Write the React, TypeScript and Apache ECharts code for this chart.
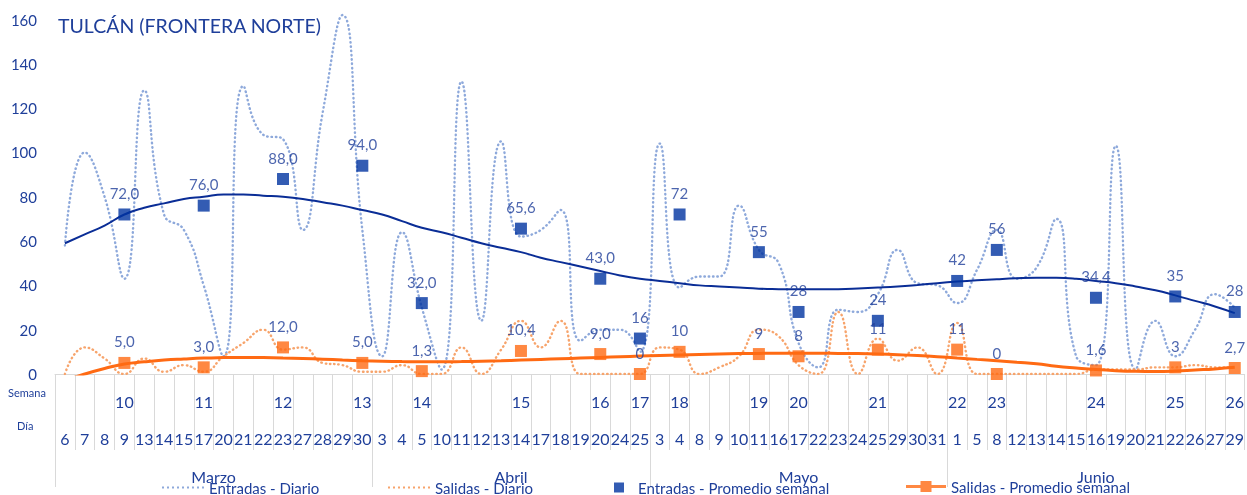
import React, { useEffect, useRef } from "react";
import * as echarts from "echarts";

// ---------- data ----------
const marzoDays = [6, 7, 8, 9, 13, 14, 15, 17, 20, 21, 22, 23, 27, 28, 29, 30];
const abrilDays = [3, 4, 5, 10, 11, 12, 13, 14, 17, 18, 19, 20, 24, 25];
const mayoDays = [3, 4, 8, 9, 10, 11, 16, 17, 22, 23, 24, 25, 29, 30, 31];
const junioDays = [1, 5, 8, 12, 13, 14, 15, 16, 19, 20, 21, 22, 26, 27, 29];
const monthNames = ["Marzo", "Abril", "Mayo", "Junio"];
const monthDays = [marzoDays, abrilDays, mayoDays, junioDays];

// week number shown under the day that carries the weekly average
const weekRow = [
  "", "", "", "10", "", "", "", "11", "", "", "", "12", "", "", "", "13",
  "", "", "14", "", "", "", "", "15", "", "", "", "16", "", "17",
  "", "18", "", "", "", "19", "", "20", "", "", "", "21", "", "", "",
  "22", "", "23", "", "", "", "", "24", "", "", "", "25", "", "", "26",
];

const entradasDiario = [
  58, 100, 80, 43, 128, 72, 65, 40, 8, 130, 108, 106, 65, 118, 162, 65,
  8, 64, 30, 2, 132, 24, 105, 62, 65, 74, 15, 20, 20, 10,
  104, 39, 44, 44, 76, 56, 50, 14, 3, 29, 28, 36, 56, 41, 40,
  32, 47, 65, 43, 48, 70, 8, 4, 103, 2, 24, 8, 20, 36, 30,
];
const salidasDiario = [
  0, 12, 7, 0, 7, 1, 4, 1, 8, 14, 20, 11, 12, 5, 4, 1,
  1, 4, 0, 0, 12, 0, 11, 24, 12, 24, 0, 0, 0, 0,
  12, 11, 0, 3, 8, 20, 17, 4, 0, 28, 0, 16, 6, 12, 0,
  23, 0, 0, 0, 0, 0, 0, 2, 2, 2, 3, 3, 4, 3, 3,
];
const entradasTendencia = [
  59, 63, 67, 72, 75, 77, 79, 80, 81, 81, 80.5, 80, 79, 77.5, 76, 74,
  72, 69, 66, 64, 61.5, 59, 57, 55, 52.5, 50.5, 48.5, 46.5, 44.5, 43,
  42, 41, 40, 39.5, 39, 38.5, 38.3, 38.2, 38.2, 38.3, 38.6, 39, 39.5, 40.2, 41,
  41.7, 42.3, 42.8, 43.2, 43.4, 43.4, 43, 42, 41, 39.5, 37.8, 35.5, 33, 30.5, 27.5,
];
const salidasTendencia = [
  -3, 0, 2.5, 4.5, 5.5, 6.3, 6.8, 7.2, 7.4, 7.5, 7.4, 7.2, 7, 6.7, 6.3, 6,
  5.8, 5.6, 5.5, 5.5, 5.6, 5.8, 6, 6.3, 6.6, 6.9, 7.2, 7.5, 7.8, 8.1,
  8.4, 8.6, 8.8, 9, 9.2, 9.3, 9.4, 9.4, 9.4, 9.3, 9.2, 9, 8.7, 8.3, 7.8,
  7.2, 6.6, 6, 5.3, 4.6, 3.5, 2.7, 2, 1.5, 1.2, 1.1, 1.3, 1.8, 2.3, 3,
];
const entradasSemanal = [72, 76, 88, 94, 32, 65.6, 43, 16, 72, 55, 28, 24, 42, 56, 34.4, 35, 28];
const entradasSemanalLabels = ["72,0", "76,0", "88,0", "94,0", "32,0", "65,6", "43,0", "16", "72", "55", "28", "24", "42", "56", "34,4", "35", "28"];
const salidasSemanal = [5, 3, 12, 5, 1.3, 10.4, 9, 0, 10, 9, 8, 11, 11, 0, 1.6, 3, 2.7];
const salidasSemanalLabels = ["5,0", "3,0", "12,0", "5,0", "1,3", "10,4", "9,0", "0", "10", "9", "8", "11", "11", "0", "1,6", "3", "2,7"];

// ---------- derived ----------
const dayLabels = monthDays.flat().map(String);
const weekIdx = weekRow.map((w, i) => (w ? i : -1)).filter((i) => i >= 0);
const monthBounds: number[] = [];
const monthMids: number[] = [];
{
  let acc = 0;
  monthDays.forEach((m) => {
    monthBounds.push(acc);
    monthMids.push(acc + m.length / 2);
    acc += m.length;
  });
}

// dotted legend icon (9 small dots)
const dottedIcon =
  "path://" +
  Array.from({ length: 9 })
    .map((_, k) => `M${k * 5},0h2v2h-2z`)
    .join(" ");

const TXT = "#1F3F9A";
const FONT = "Lato";
const BLUE = "#0033A0";
const ORANGE = "#FF6A13";
const GRID = "#D9D9D9";
const LEG_TOP = 475;

export default function App() {
  const ref = useRef<HTMLDivElement>(null);
  useEffect(() => {
    const chart = echarts.init(ref.current as HTMLDivElement, null, { renderer: "svg" });
    const legendText = { color: TXT, fontSize: 15, fontFamily: FONT };
    const option: any = {
      animation: false,
      textStyle: { fontFamily: FONT },
      title: {
        text: "TULCÁN (FRONTERA NORTE)",
        left: 53,
        top: 10,
        textStyle: { color: TXT, fontSize: 19.5, fontWeight: "normal", fontFamily: FONT },
      },
      grid: { left: 55, top: 19.5, width: 1194, height: 354.5 },
      xAxis: [
        {
          type: "category",
          data: dayLabels,
          boundaryGap: true,
          axisLine: { show: true, lineStyle: { color: GRID } },
          axisTick: { show: true, interval: 0, length: 76, lineStyle: { color: GRID } },
          axisLabel: { interval: 0, margin: 56, color: TXT, fontSize: 16, fontFamily: FONT },
        },
        {
          type: "category",
          data: dayLabels,
          position: "bottom",
          axisLine: { show: false },
          axisTick: { show: false },
          axisLabel: {
            interval: 0,
            margin: 19,
            color: TXT,
            fontSize: 16,
            fontFamily: FONT,
            formatter: (_v: string, i: number) => weekRow[i],
          },
        },
        {
          type: "value",
          min: 0,
          max: dayLabels.length,
          position: "bottom",
          axisLine: { show: false },
          splitLine: { show: false },
          axisTick: { show: true, customValues: monthBounds, length: 113, lineStyle: { color: GRID } },
          axisLabel: {
            customValues: monthMids,
            margin: 94,
            color: TXT,
            fontSize: 16,
            fontFamily: FONT,
            formatter: (v: number) => {
              const k = monthMids.findIndex((m) => Math.abs(m - v) < 0.01);
              return k >= 0 ? monthNames[k] : "";
            },
          },
        },
      ],
      yAxis: {
        type: "value",
        min: 0,
        max: 160,
        interval: 20,
        axisLine: { show: false },
        axisTick: { show: false },
        splitLine: { show: false },
        axisLabel: { color: TXT, fontSize: 15, margin: 18, fontFamily: FONT },
      },
      legend: [
        {
          data: [{ name: "Entradas - Diario", icon: dottedIcon }],
          left: 157,
          top: LEG_TOP,
          itemWidth: 42,
          itemHeight: 2,
          textStyle: legendText,
        },
        {
          data: [{ name: "Salidas - Diario", icon: dottedIcon }],
          left: 383,
          top: LEG_TOP,
          itemWidth: 42,
          itemHeight: 2,
          textStyle: legendText,
        },
        {
          data: [{ name: "Entradas - Promedio semanal", icon: "rect" }],
          left: 609,
          top: LEG_TOP,
          itemWidth: 10,
          itemHeight: 10,
          textStyle: { ...legendText, padding: [0, 0, 0, 9] },
        },
        {
          data: [{ name: "Salidas - Promedio semanal", icon: "path://M0,4.5h40v3h-40z M14.5,0.5h11v11h-11z" }],
          left: 901,
          top: LEG_TOP - 1,
          itemWidth: 40,
          itemHeight: 12,
          textStyle: legendText,
        },
      ],
      graphic: [
        { type: "text", left: 8, top: 387, style: { text: "Semana", fill: TXT, fontSize: 11, fontFamily: FONT } },
        { type: "text", left: 17, top: 420, style: { text: "Día", fill: TXT, fontSize: 11, fontFamily: FONT } },
      ],
      series: [
        {
          name: "Entradas - Diario",
          type: "line",
          data: entradasDiario,
          smooth: 0.5,
          symbol: "none",
          clip: false,
          z: 1,
          lineStyle: { color: "#8EA9DB", width: 2.4, type: [0.5, 3.8], cap: "round" },
          itemStyle: { color: "#8EA9DB" },
        },
        {
          name: "Salidas - Diario",
          type: "line",
          data: salidasDiario,
          smooth: 0.5,
          symbol: "none",
          z: 1,
          lineStyle: { color: "#F7A46C", width: 2.4, type: [0.5, 3.8], cap: "round" },
          itemStyle: { color: "#F7A46C" },
        },
        {
          name: "Tendencia Entradas",
          type: "line",
          data: entradasTendencia,
          smooth: true,
          symbol: "none",
          z: 3,
          lineStyle: { color: "#0A2D96", width: 2 },
        },
        {
          name: "Tendencia Salidas",
          type: "line",
          data: salidasTendencia,
          smooth: true,
          symbol: "none",
          clip: true,
          z: 3,
          lineStyle: { color: ORANGE, width: 3 },
        },
        {
          name: "Entradas - Promedio semanal",
          type: "scatter",
          data: weekIdx.map((d, k) => [d, entradasSemanal[k]]),
          symbol: "rect",
          symbolSize: 12,
          clip: false,
          z: 5,
          itemStyle: { color: BLUE },
          label: {
            show: true,
            position: "top",
            distance: 8,
            color: TXT,
            fontSize: 15,
            fontFamily: FONT,
            formatter: (p: any) => entradasSemanalLabels[p.dataIndex],
          },
        },
        {
          name: "Salidas - Promedio semanal",
          type: "scatter",
          data: weekIdx.map((d, k) => [d, salidasSemanal[k]]),
          symbol: "rect",
          symbolSize: 12,
          clip: false,
          z: 5,
          itemStyle: { color: ORANGE },
          label: {
            show: true,
            position: "top",
            distance: 8,
            color: TXT,
            fontSize: 15,
            fontFamily: FONT,
            formatter: (p: any) => salidasSemanalLabels[p.dataIndex],
          },
        },
      ],
    };
    chart.setOption(option);
    return () => chart.dispose();
  }, []);
  return <div ref={ref} style={{ position: "fixed", left: 0, top: 0, width: 1247, height: 495 }} />;
}
